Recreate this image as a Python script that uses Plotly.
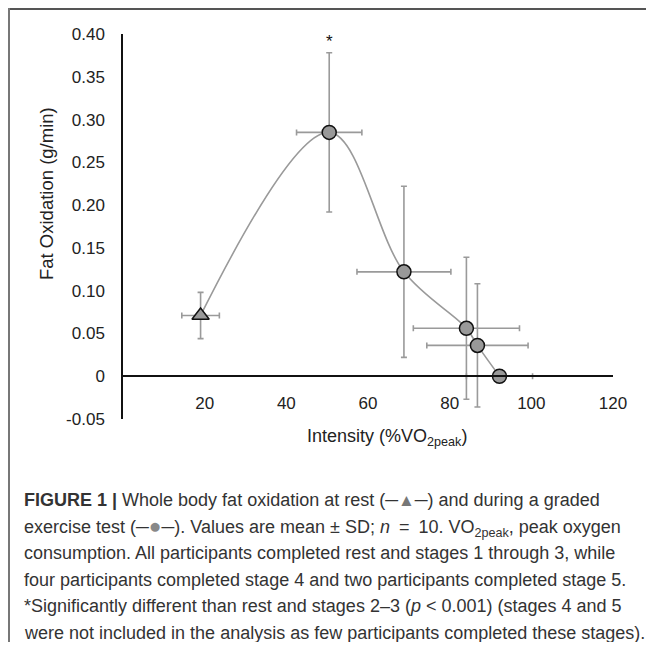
import plotly.graph_objects as go

# ---- data ----
rest_x = [19.0]
rest_y = [0.071]
rest_x_err = [4.6]
rest_y_err = [0.027]

stage_x = [50.5, 68.8, 84.1, 86.8, 92.2]
stage_y = [0.285, 0.122, 0.056, 0.036, 0.0]
stage_x_err = [8.0, 11.5, 13.0, 12.4, 8.1]
stage_y_err = [0.093, 0.100, 0.083, 0.072, 0.0]

x_ticks = [20, 40, 60, 80, 100, 120]
y_ticks = [-0.05, 0, 0.05, 0.10, 0.15, 0.20, 0.25, 0.30, 0.35, 0.40]
y_tick_labels = ["-0.05", "0", "0.05", "0.10", "0.15", "0.20", "0.25", "0.30", "0.35", "0.40"]
x_range = [0, 120]
y_range = [-0.05, 0.40]

DASH = "<span style='color:#333'>\u2500</span>"
TRI = "<span style='color:#777;font-size:17px'>\u25B2</span>"
DOT = "<span style='color:#888;font-size:21px'>\u25CF</span>"
caption_lines = [
    "<b>FIGURE 1 |</b> Whole body fat oxidation at rest (" + DASH + TRI + DASH + ") and during a graded",
    "exercise test (" + DASH + DOT + DASH + "). Values are mean ± SD; <i>n</i>\u2002=\u200210. VO<sub>2peak</sub>, peak oxygen",
    "consumption. All participants completed rest and stages 1 through 3, while",
    "four participants completed stage 4 and two participants completed stage 5.",
    "*Significantly different than rest and stages 2–3 (<i>p</i> &lt; 0.001) (stages 4 and 5",
    "were not included in the analysis as few participants completed these stages).",
]

# ---- layout geometry (page body has an 8px margin) ----
OFF = 8
W, H = 654 - 2 * OFF, 650 - 2 * OFF
L, R, T, B = 123 - OFF, W - (613 - OFF), 34 - OFF, H - (419 - OFF)
PW, PH = W - L - R, H - T - B


def px(xp):
    """reference-window x pixel -> paper x"""
    return (xp - OFF - L) / PW


def py(yp):
    """reference-window y pixel -> paper y"""
    return (H - B - (yp - OFF)) / PH


FONT = "Liberation Sans, Arial, sans-serif"
GRAY = "#9a9a9a"

fig = go.Figure()

# smooth connecting line
fig.add_trace(go.Scatter(
    x=rest_x + stage_x, y=rest_y + stage_y, mode="lines",
    line=dict(color=GRAY, width=1.6, shape="spline", smoothing=1.0),
    hoverinfo="skip", showlegend=False,
))

err_style = dict(type="data", visible=True, color=GRAY, thickness=1.6, width=3)

fig.add_trace(go.Scatter(
    x=rest_x, y=rest_y, mode="markers",
    marker=dict(symbol="triangle-up", size=15, color="#999999",
                line=dict(color="#111111", width=1.5)),
    error_x=dict(array=rest_x_err, **err_style),
    error_y=dict(array=rest_y_err, **err_style),
    showlegend=False,
))

fig.add_trace(go.Scatter(
    x=stage_x, y=stage_y, mode="markers",
    marker=dict(symbol="circle", size=14, color="#999999",
                line=dict(color="#111111", width=1.5)),
    error_x=dict(array=stage_x_err, **err_style),
    error_y=dict(array=stage_y_err, **err_style),
    showlegend=False,
))

annotations = []
# significance asterisk
annotations.append(dict(
    x=stage_x[0], y=stage_y[0] + stage_y_err[0], xref="x", yref="y",
    text="*", showarrow=False, yanchor="bottom", yshift=0,
    font=dict(family=FONT, size=17, color="#111"),
))
# axis titles
annotations.append(dict(
    x=px(46), y=py(194), xref="paper", yref="paper", textangle=-90,
    text="Fat Oxidation (g/min)", showarrow=False,
    xanchor="center", yanchor="middle",
    font=dict(family=FONT, size=18.5, color="#222"),
))
annotations.append(dict(
    x=px(387), y=py(438), xref="paper", yref="paper",
    text="Intensity (%VO<sub>2peak</sub>)", showarrow=False,
    xanchor="center", yanchor="middle",
    font=dict(family=FONT, size=18, color="#222"),
))
# caption
for i, line in enumerate(caption_lines):
    annotations.append(dict(
        x=px(22), y=py(500 + 26.5 * i), xref="paper", yref="paper",
        text=line, showarrow=False, xanchor="left", yanchor="middle",
        align="left", font=dict(family=FONT, size=18, color="#333"),
    ))

shapes = [
    dict(type="line", xref="paper", yref="paper", x0=px(8), x1=px(670),
         y0=py(9), y1=py(9), line=dict(color="#555", width=2)),
    dict(type="line", xref="paper", yref="paper", x0=px(9), x1=px(9),
         y0=py(8), y1=py(670), line=dict(color="#777", width=2)),
]

x_axis_pos = (0 - y_range[0]) / (y_range[1] - y_range[0])

fig.update_layout(
    width=W, height=H,
    margin=dict(l=L, r=R, t=T, b=B, autoexpand=False),
    paper_bgcolor="white", plot_bgcolor="white",
    showlegend=False,
    xaxis=dict(
        range=x_range, anchor="free", position=x_axis_pos,
        showline=True, linecolor="#111", linewidth=1.5,
        showgrid=False, zeroline=False, ticks="",
        tickvals=x_ticks, ticklabelstandoff=12,
        tickfont=dict(family=FONT, size=17, color="#222"),
    ),
    yaxis=dict(
        range=y_range, domain=[0, 1],
        showline=True, linecolor="#111", linewidth=1.5,
        showgrid=False, zeroline=False, ticks="",
        tickvals=y_ticks, ticktext=y_tick_labels, ticklabelstandoff=13,
        tickfont=dict(family=FONT, size=17, color="#222"),
    ),
    annotations=annotations,
    shapes=shapes,
)

fig.write_html("out.html")
